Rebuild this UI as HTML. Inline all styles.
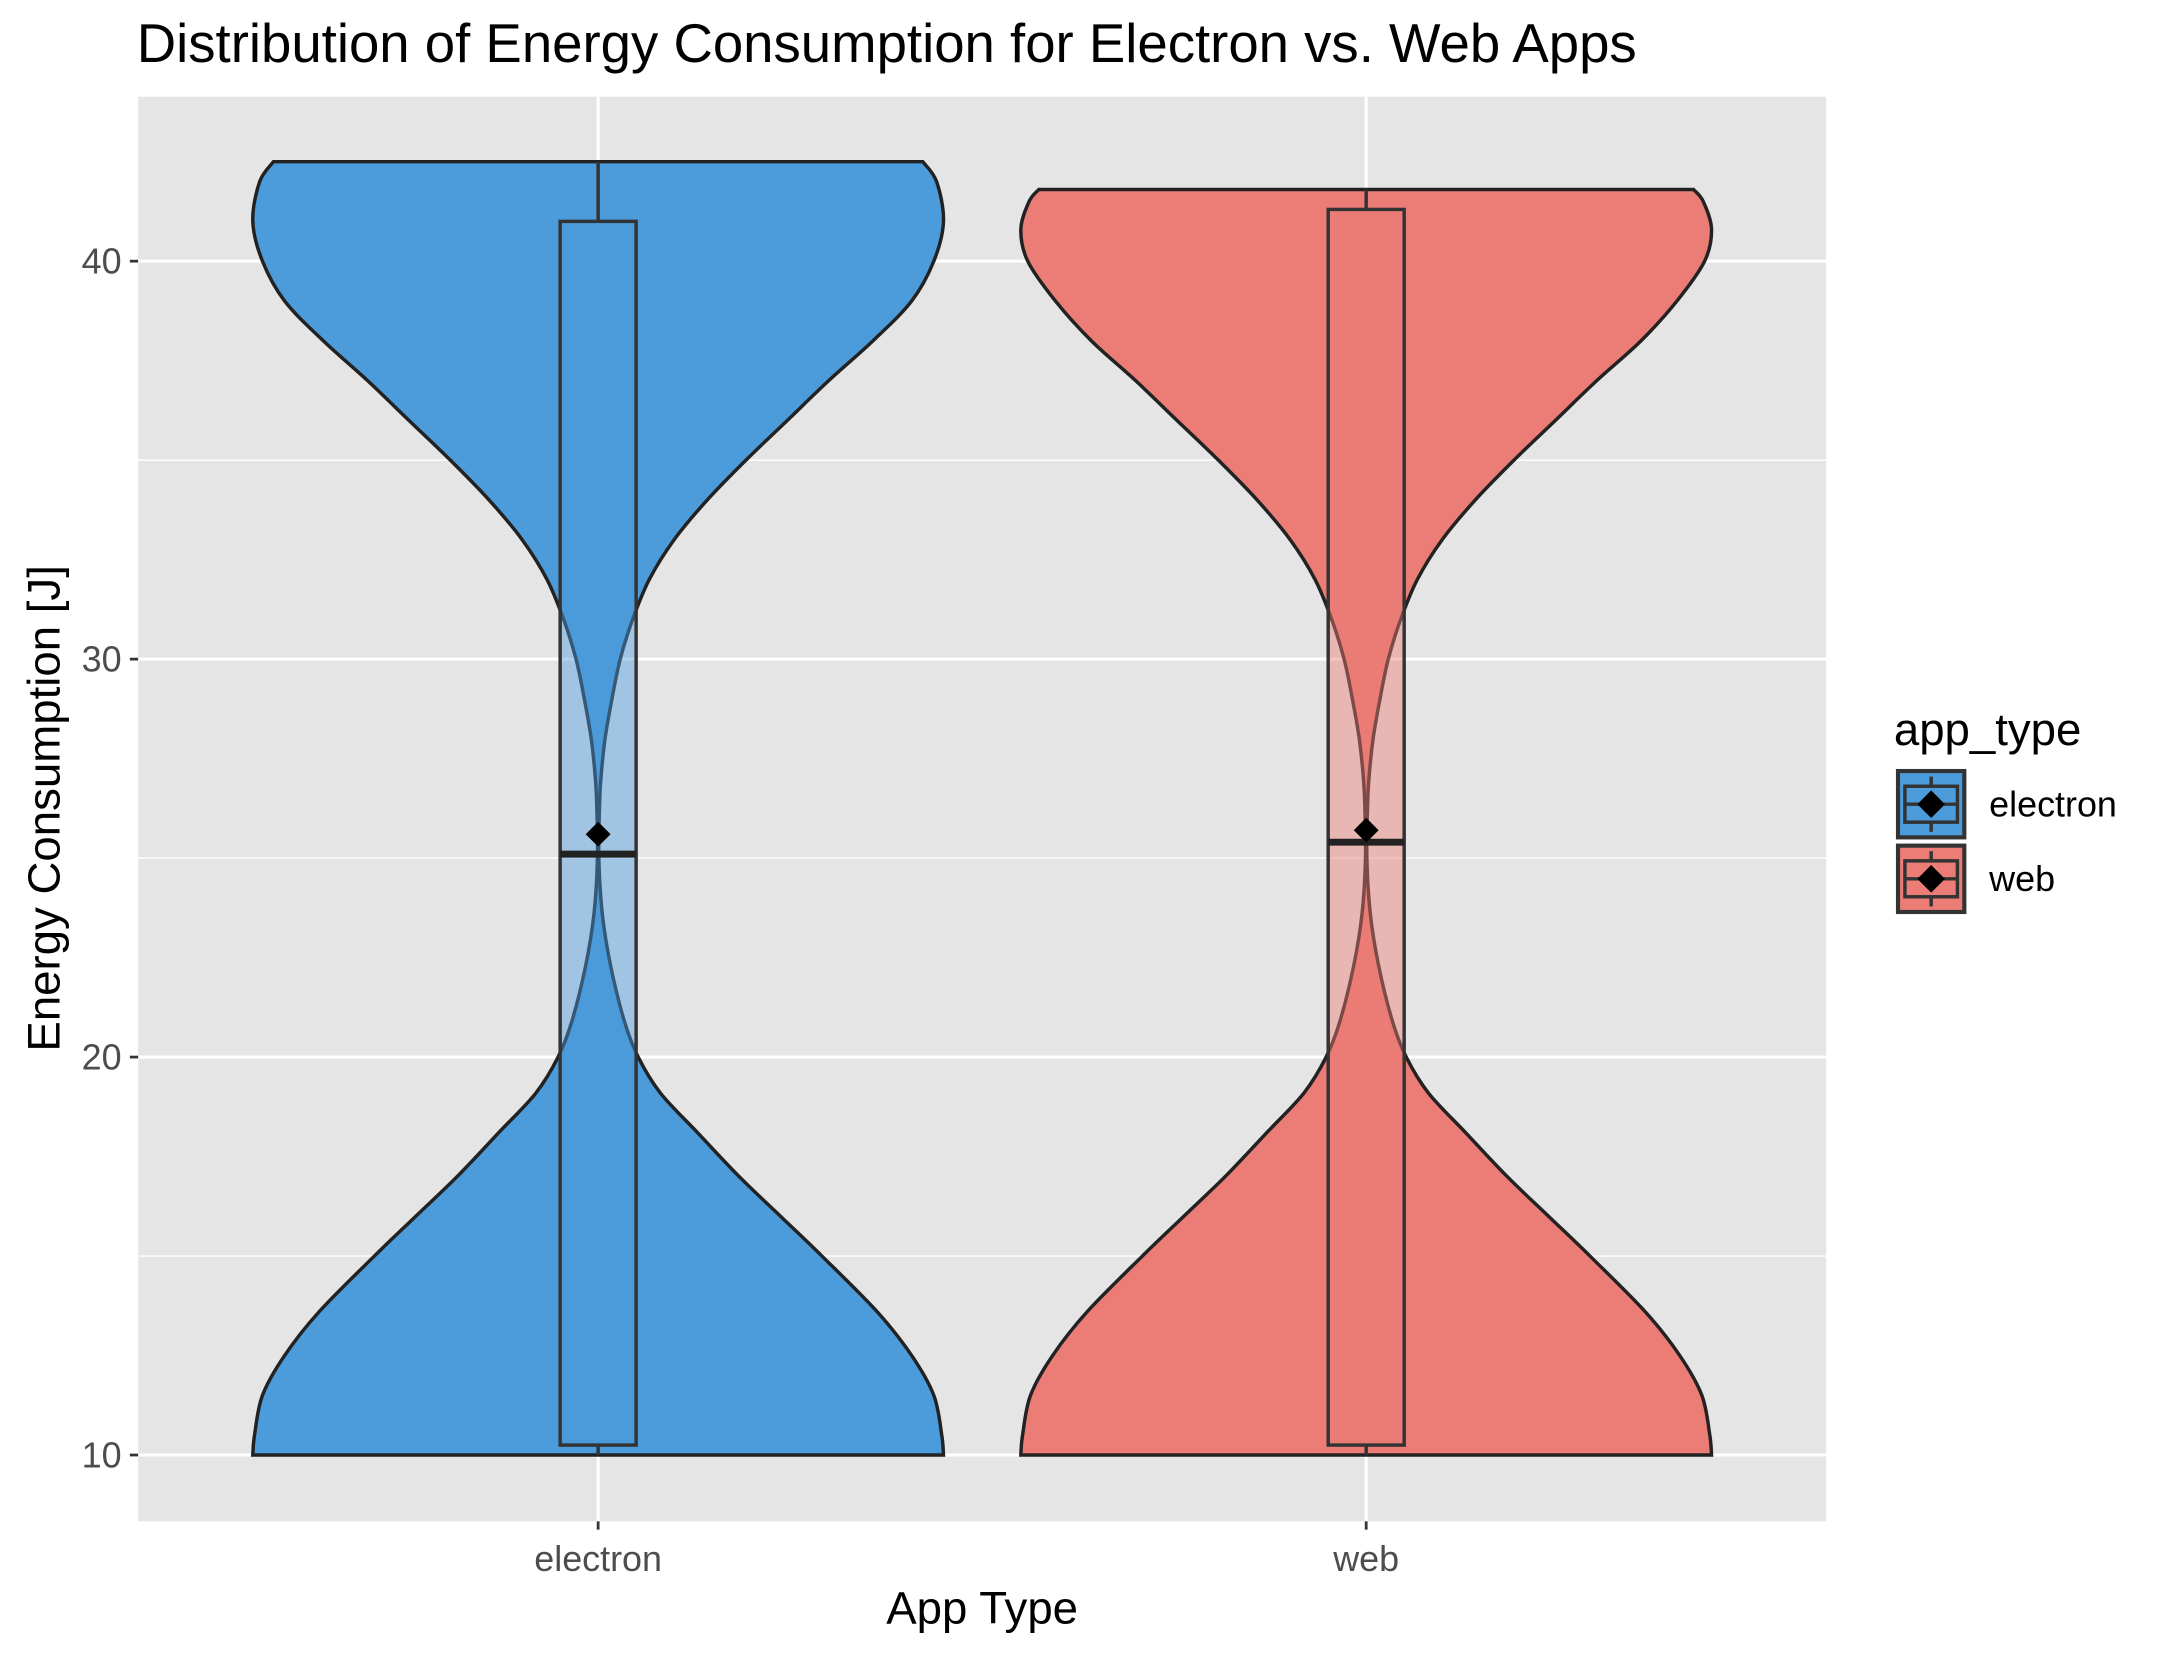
<!DOCTYPE html>
<html><head><meta charset="utf-8"><style>
html,body{margin:0;padding:0;background:#fff}
svg{display:block}
text{font-family:"Liberation Sans",Arial,sans-serif}
</style></head><body>
<svg id="chart" width="2166" height="1654" viewBox="0 0 1568 1197" preserveAspectRatio="none" xmlns="http://www.w3.org/2000/svg">
<rect width="1568" height="1197" fill="#fff"/>
<text x="99" y="45" font-size="39.5" fill="#000">Distribution of Energy Consumption for Electron vs. Web Apps</text>
<rect x="100" y="70" width="1222" height="1031" fill="#e5e5e5"/>
<g id="grid"></g>
<g id="marks"></g>
<g id="axes"></g>
<text transform="translate(43,585) rotate(-90)" text-anchor="middle" font-size="33" fill="#000">Energy Consumption [J]</text>
<text x="711" y="1175" text-anchor="middle" font-size="33" fill="#000">App Type</text>
<g>
<text x="1371" y="539" font-size="33" fill="#000">app_type</text>
<g id="legend-keys"></g>
</g>
</svg>
<script>
const categories = ["electron","web"];
const fills = ["#4C9CDB","#EC7D76"];
const yTicks = [10,20,30,40];
const densLevels = [
 [10,10.5,11.5,12.5,13.6,15,16,17,18.1,19.1,20,20.9,22.3,23.6,25,26.3,27,28,29,30,31,32,33,34,35,36,37,38,39,40,41,42,42.5],
 [10,10.5,11.5,12.5,13.6,15,16,17,18.1,19.1,20,20.9,22.3,23.6,25,26.3,27,28,29,30,31,32,33,34,35,36,37,38,39,40,40.8,41.5,41.8]
];
const densWidth = [
 [1,0.995,0.972,0.908,0.808,0.648,0.528,0.408,0.288,0.18,0.116,0.076,0.036,0.012,0.002,0.004,0.008,0.02,0.04,0.064,0.1,0.148,0.22,0.316,0.428,0.548,0.668,0.796,0.908,0.972,1,0.98,0.94],
 [1,0.995,0.972,0.908,0.808,0.648,0.528,0.408,0.288,0.18,0.116,0.076,0.036,0.012,0.002,0.004,0.008,0.02,0.04,0.064,0.1,0.148,0.22,0.316,0.428,0.548,0.668,0.796,0.9,0.98,1,0.976,0.948]
];
const whiskLow = [10,10];
const q1 = [10.25,10.25];
const median = [25.1,25.4];
const q3 = [41,41.3];
const whiskHigh = [42.5,41.8];
const means = [25.6,25.7];

const NS="http://www.w3.org/2000/svg";
const yS = v => 1053 - (v-10)*28.8;
const xS = i => 433 + i*556;
const maxHalf = 250, boxHalf = 27.5;
function mk(tag, attrs, parent){const e=document.createElementNS(NS,tag);for(const k in attrs)e.setAttribute(k,attrs[k]);parent.appendChild(e);return e;}
const grid=document.getElementById('grid'), marks=document.getElementById('marks'), axes=document.getElementById('axes');
for(let i=0;i<yTicks.length-1;i++){
  const v=(yTicks[i]+yTicks[i+1])/2;
  const l=mk('line',{x1:100,x2:1322,y1:yS(v),y2:yS(v),stroke:'#fff','stroke-width':1},grid);
  
  
}
yTicks.forEach(v=>{
  const l=mk('line',{x1:100,x2:1322,y1:yS(v),y2:yS(v),stroke:'#fff','stroke-width':2.2},grid);
  
  
  const t=mk('line',{x1:94,x2:100,y1:yS(v),y2:yS(v),stroke:'#333','stroke-width':2},axes);
  
  
  const tx=mk('text',{x:88,y:yS(v)+9,'text-anchor':'end','font-size':26,fill:'#4d4d4d'},axes);
  tx.textContent=v;
  
  
});
function smooth(p){let d=`M${p[0][0]},${p[0][1]}`;for(let k=0;k<p.length-1;k++){const p0=p[k-1]||p[k],p1=p[k],p2=p[k+1],p3=p[k+2]||p2;d+=` C${p1[0]+(p2[0]-p0[0])/6},${p1[1]+(p2[1]-p0[1])/6} ${p2[0]-(p3[0]-p1[0])/6},${p2[1]-(p3[1]-p1[1])/6} ${p2[0]},${p2[1]}`;}return d;}
categories.forEach((c,i)=>{
  const x=xS(i);
  const g=mk('line',{x1:x,x2:x,y1:70,y2:1101,stroke:'#fff','stroke-width':2.2},grid);
  
  
  const t=mk('line',{x1:x,x2:x,y1:1101,y2:1107,stroke:'#333','stroke-width':2},axes);
  
  
  const tx=mk('text',{x:x,y:1137,'text-anchor':'middle','font-size':26,fill:'#4d4d4d'},axes);
  tx.textContent=c;
  
  
  const L=densLevels[i], W=densWidth[i];
  const pts=L.map((v,k)=>[x+W[k]*maxHalf,yS(v)]);
  const left=L.map((v,k)=>[x-W[k]*maxHalf,yS(v)]).reverse();
  const dR=smooth(pts), dL=smooth(left).replace(/^M/,' L');
  const vp=mk('path',{d:dR+dL+' Z',fill:fills[i],stroke:'#222','stroke-width':2.5},marks);
  
  
  const w1=mk('line',{x1:x,x2:x,y1:yS(whiskHigh[i]),y2:yS(q3[i]),stroke:'#333','stroke-width':2.5},marks);
  
  
  const w2=mk('line',{x1:x,x2:x,y1:yS(q1[i]),y2:yS(whiskLow[i]),stroke:'#333','stroke-width':2.5},marks);
  
  
  const box=mk('rect',{x:x-boxHalf,y:yS(q3[i]),width:boxHalf*2,height:yS(q1[i])-yS(q3[i]),fill:fills[i],'fill-opacity':0.45,stroke:'#333','stroke-width':2.5},marks);
  
  
  const med=mk('line',{x1:x-boxHalf,x2:x+boxHalf,y1:yS(median[i]),y2:yS(median[i]),stroke:'#222','stroke-width':5},marks);
  
  
  const my=yS(means[i]);
  const dm=mk('polygon',{points:`${x},${my-9} ${x+9},${my} ${x},${my+9} ${x-9},${my}`,fill:'#000'},marks);
  
  
  const lk=document.getElementById('legend-keys');
  const ky=558+i*54;
  const kb=mk('rect',{x:1374,y:ky,width:48,height:48,fill:fills[i],stroke:'#333','stroke-width':3},lk);
  
  
  mk('rect',{x:1379,y:ky+11,width:38,height:26,fill:'none',stroke:'#333','stroke-width':2.5},lk);
  mk('line',{x1:1379,x2:1417,y1:ky+24,y2:ky+24,stroke:'#333','stroke-width':2.5},lk);
  mk('line',{x1:1398,x2:1398,y1:ky+4,y2:ky+11,stroke:'#333','stroke-width':2.5},lk);
  mk('line',{x1:1398,x2:1398,y1:ky+37,y2:ky+44,stroke:'#333','stroke-width':2.5},lk);
  mk('polygon',{points:`1398,${ky+14} 1408,${ky+24} 1398,${ky+34} 1388,${ky+24}`,fill:'#000'},lk);
  const lt=mk('text',{x:1440,y:ky+33,'font-size':26,fill:'#000'},lk);
  lt.textContent=c;
  
  
});
</script>
</body></html>
